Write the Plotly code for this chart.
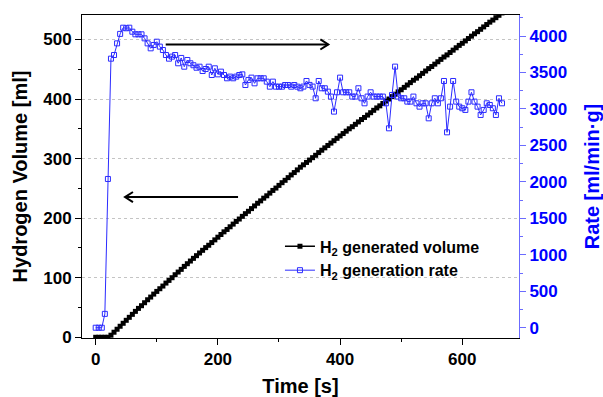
import plotly.graph_objects as go

# sampling times [s]
time_s = list(range(0, 670, 5))

# H2 generation rate [ml/min·g]
rate_values = [
    0, 0, 0, 190, 2040, 3690, 3740, 3900, 4030, 4115,
    4107, 4115, 4060, 4024, 4024, 4024, 3969, 3900, 3832, 3878,
    3923, 3855, 3809, 3740, 3690, 3718, 3740, 3627, 3700, 3580,
    3672, 3627, 3600, 3566, 3580, 3521, 3548, 3580, 3466, 3558,
    3475, 3512, 3466, 3421, 3444, 3421, 3444, 3466, 3475, 3329,
    3398, 3430, 3352, 3421, 3421, 3421, 3375, 3306, 3375, 3306,
    3306, 3306, 3329, 3329, 3306, 3329, 3306, 3284, 3307, 3384,
    3330, 3307, 3147, 3384, 3284, 3284, 3238, 3170, 2964, 3229,
    3430, 3229, 3229, 3229, 3170, 3170, 3284, 3147, 3078, 3170,
    3229, 3170, 3170, 3170, 3170, 3078, 2735, 3192, 3581, 3170,
    3147, 3147, 3101, 3101, 3170, 3078, 3032, 3078, 3078, 2872,
    3078, 3147, 3078, 3147, 3384, 2680, 3032, 3384, 3101, 3032,
    3010, 2987, 3101, 3229, 3101, 3032, 2918, 2987, 3078, 3055,
    3010, 2918, 3147, 3078,
]

# H2 generated volume [ml]
volume_values = [
    0, 0, 0, 0, 0, 3.5, 8.5, 13.5, 18.5, 23.5,
    28.5, 33.5, 38.5, 43.5, 48.5, 53, 58, 63, 67.5, 72.5,
    77, 81.5, 86, 91, 95.5, 100, 105, 109.5, 114, 119,
    123.5, 128, 132.5, 137, 141.5, 146, 150.5, 154.5, 159, 163.5,
    168, 172.5, 177, 181, 185.5, 190, 194.5, 198.5, 203, 207.5,
    211.5, 216, 220.5, 225, 229, 233.5, 237.5, 242, 246.5, 250.5,
    255, 259.5, 263.5, 268, 272.5, 276.5, 281, 285.5, 289.5, 293.5,
    297.5, 301.5, 305.5, 310, 314, 318, 322, 326, 330, 334,
    338, 342, 346, 350, 353.5, 357.5, 361.5, 365.5, 369, 373,
    377, 381, 385, 388.5, 392.5, 396.5, 400, 404, 408, 412,
    415.5, 419.5, 423.5, 427.5, 431.5, 435, 439, 443, 447, 451,
    454.5, 458.5, 462.5, 466.5, 470.5, 474, 478, 482, 486, 490,
    493.5, 497.5, 501.5, 505.5, 509.5, 513, 517, 521, 525, 529,
    532.5, 536.5, 540.5, 544.5,
]

x_ticks = [0, 200, 400, 600]
vol_ticks = [0, 100, 200, 300, 400, 500]
rate_ticks = [0, 500, 1000, 1500, 2000, 2500, 3000, 3500, 4000]

# guide arrows (time [s], volume [ml]): tail -> head
arrow_left = dict(tail=(233, 235.4), head=(48, 235.4))
arrow_right = dict(tail=(114.6, 491.6), head=(380.7, 491.6))

FONT = "Liberation Sans, Arial, sans-serif"
BLUE = "#0000ff"
BLUE_LINE = "#6b6bff"

fig = go.Figure()

fig.add_trace(go.Scatter(
    x=time_s, y=volume_values, name="H<sub>2</sub> generated volume",
    mode="lines+markers", yaxis="y",
    line=dict(color="black", width=1.5),
    marker=dict(symbol="square", size=5, color="black"),
))
fig.add_trace(go.Scatter(
    x=time_s, y=rate_values, name="H<sub>2</sub> generation rate",
    mode="lines+markers", yaxis="y2",
    line=dict(color="#2b2bff", width=1),
    marker=dict(symbol="square-open", size=5, color="#2b2bff", line=dict(width=1)),
))

tickfont = dict(family=FONT, size=17, color="black", weight="bold")

# arrow shapes (line + open chevron head)
shapes = []
for arr in (arrow_left, arrow_right):
    (tx, ty), (hx, hy) = arr["tail"], arr["head"]
    direction = 1 if hx > tx else -1
    back = 13 * direction  # seconds (~8 px)
    half = 8.5             # ml (~5 px)
    shapes.append(dict(type="line", xref="x", yref="y", x0=tx, y0=ty, x1=hx, y1=hy,
                       line=dict(color="black", width=2)))
    shapes.append(dict(type="path", xref="x", yref="y",
                       path=f"M{hx - back},{hy + half} L{hx},{hy} L{hx - back},{hy - half}",
                       line=dict(color="black", width=2)))

fig.update_layout(
    width=603, height=397,
    margin=dict(l=82, r=84, t=15, b=59, autoexpand=False),
    paper_bgcolor="white", plot_bgcolor="white",
    font=dict(family=FONT),
    showlegend=True,
    legend=dict(
        x=0.453, y=0.336, xanchor="left", yanchor="top",
        bgcolor="rgba(0,0,0,0)",
        font=dict(family=FONT, size=16, color="black", weight="bold"),
        tracegroupgap=0,
    ),
    xaxis=dict(
        range=[-22.4, 692.8], tickvals=x_ticks, ticks="outside", ticklen=6,
        tickwidth=1, tickcolor="black", automargin=False,
        minor=dict(dtick=100, tick0=0, ticks="outside", ticklen=3, tickcolor="black"),
        showline=True, linecolor="black", linewidth=1, mirror=True,
        showgrid=False, zeroline=False, tickfont=tickfont,
        title=dict(text="Time [s]", font=dict(family=FONT, size=20, color="black", weight="bold"),
                   standoff=10),
    ),
    xaxis3=dict(
        overlaying="x", matches="x", side="top", anchor="y", automargin=False,
        tickvals=x_ticks, ticks="inside", ticklen=5, tickcolor="black",
        minor=dict(dtick=100, tick0=0, ticks="inside", ticklen=3, tickcolor="black"),
        showticklabels=False, showline=False, showgrid=False, zeroline=False,
    ),
    yaxis=dict(
        range=[-1.2, 541], tickvals=vol_ticks, ticks="outside", ticklen=6,
        tickcolor="black", automargin=False,
        minor=dict(dtick=50, tick0=0, ticks="outside", ticklen=3, tickcolor="black"),
        showline=True, linecolor="black", linewidth=1,
        showgrid=True, gridcolor="#c4c4c4", griddash="dot", gridwidth=1,
        zeroline=False, tickfont=tickfont,
        title=dict(text="Hydrogen Volume [ml]",
                   font=dict(family=FONT, size=20, color="black", weight="bold"),
                   standoff=10),
    ),
    yaxis3=dict(
        overlaying="y", matches="y", side="right", anchor="x", automargin=False,
        tickvals=vol_ticks, ticks="inside", ticklen=5, tickcolor="black",
        minor=dict(dtick=50, tick0=0, ticks="inside", ticklen=3, tickcolor="black"),
        showticklabels=False, showline=False, showgrid=False, zeroline=False,
    ),
    yaxis2=dict(
        overlaying="y", side="right", anchor="x", automargin=False,
        range=[-141, 4289], tickvals=rate_ticks, ticks="outside", ticklen=6,
        tickcolor=BLUE_LINE,
        minor=dict(dtick=250, tick0=0, ticks="outside", ticklen=3, tickcolor=BLUE_LINE),
        showline=True, linecolor=BLUE_LINE, linewidth=1,
        showgrid=False, zeroline=False,
        tickfont=dict(family=FONT, size=17, color=BLUE, weight="bold"),
        title=dict(text="Rate [ml/min·g]",
                   font=dict(family=FONT, size=20, color=BLUE, weight="bold"),
                   standoff=18),
    ),
    shapes=shapes,
)

fig.write_html("out.html", config={"displayModeBar": False},
               post_script="document.body.style.margin='0';")
